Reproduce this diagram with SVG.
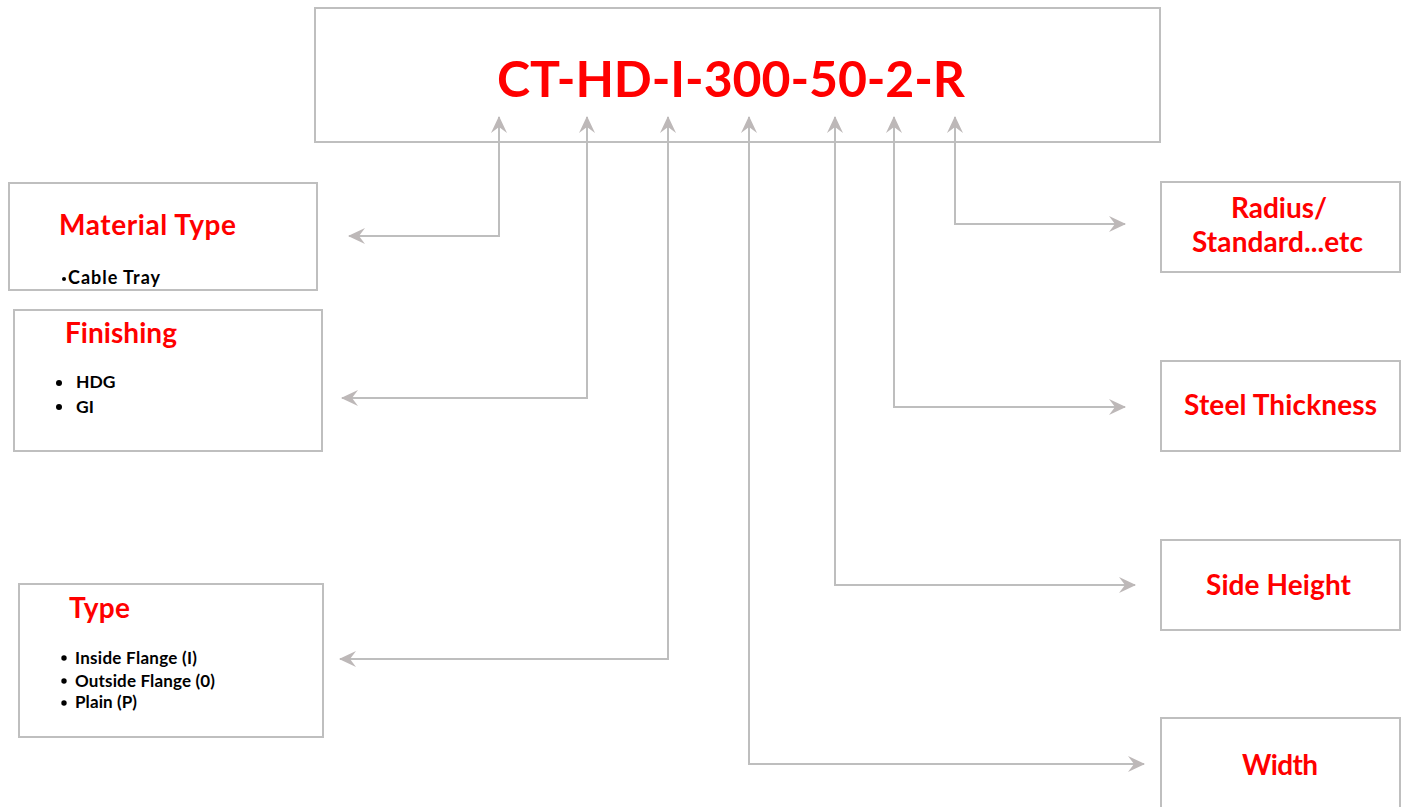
<svg xmlns="http://www.w3.org/2000/svg" width="1406" height="807" viewBox="0 0 1406 807">
<style>
.box{fill:#fff;stroke:#BFBFBF;stroke-width:2}
.ttl{font-family:Lato,"Open Sans",sans-serif;font-weight:bold;fill:#FF0000;font-size:28px}
.itm{font-family:Lato,"Open Sans",sans-serif;font-weight:bold;fill:#000;font-size:17px}
.cn{fill:none;stroke:#BEBEBE;stroke-width:2}
</style>
<defs>
<marker id="ah" viewBox="0 0 18 18" refX="16" refY="9" markerWidth="18" markerHeight="18" markerUnits="userSpaceOnUse" orient="auto-start-reverse">
<path d="M0,1 L17,9 L0,17 L6,9 Z" fill="#BDB8B8"/>
</marker>
</defs>
<rect width="1406" height="807" fill="#fff"/>
<g id="code">
<rect class="box" x="315" y="8" width="845" height="134"/>
<text class="ttl" x="497" y="97" style="font-size:50px" textLength="468">CT-HD-I-300-50-2-R</text>
</g>
<g id="material">
<rect class="box" x="9" y="183" width="308" height="107"/>
<text class="ttl" x="59" y="235" textLength="177">Material Type</text>
<circle cx="64" cy="279" r="2"/>
<text class="itm" x="68" y="284" style="font-size:18px" textLength="92">Cable Tray</text>
</g>
<g id="finishing">
<rect class="box" x="14" y="310" width="308" height="141"/>
<text class="ttl" x="65" y="343" textLength="112">Finishing</text>
<circle cx="59" cy="383" r="3"/><text class="itm" x="76" y="388" style="font-size:17.5px">HDG</text>
<circle cx="59" cy="407" r="3"/><text class="itm" x="76" y="413" style="font-size:17.5px">GI</text>
</g>
<g id="type">
<rect class="box" x="19" y="584" width="304" height="153"/>
<text class="ttl" x="69" y="618" textLength="61">Type</text>
<circle cx="64" cy="658" r="2.7"/><text class="itm" x="75" y="664" textLength="122">Inside Flange (I)</text>
<circle cx="64" cy="681" r="2.7"/><text class="itm" x="75" y="687" textLength="140">Outside Flange (0)</text>
<circle cx="64" cy="703" r="2.7"/><text class="itm" x="75" y="708" textLength="62">Plain (P)</text>
</g>
<g id="radius">
<rect class="box" x="1161" y="182" width="239" height="90"/>
<text class="ttl" x="1279" y="218" text-anchor="middle">Radius/</text>
<text class="ttl" x="1192" y="252" textLength="171">Standard...etc</text>
</g>
<g id="thickness">
<rect class="box" x="1161" y="361" width="239" height="90"/>
<text class="ttl" x="1184" y="415" textLength="193">Steel Thickness</text>
</g>
<g id="sideheight">
<rect class="box" x="1161" y="540" width="239" height="90"/>
<text class="ttl" x="1206" y="595" textLength="145">Side Height</text>
</g>
<g id="width">
<rect class="box" x="1161" y="718" width="239" height="100"/>
<text class="ttl" x="1242" y="775" textLength="76">Width</text>
</g>
<g id="connectors">
<path class="cn" d="M349,236 H499 V117" marker-start="url(#ah)" marker-end="url(#ah)"/>
<path class="cn" d="M342,398 H587 V117" marker-start="url(#ah)" marker-end="url(#ah)"/>
<path class="cn" d="M340,659 H668 V117" marker-start="url(#ah)" marker-end="url(#ah)"/>
<path class="cn" d="M749,117 V764 H1144" marker-start="url(#ah)" marker-end="url(#ah)"/>
<path class="cn" d="M835,117 V585 H1135" marker-start="url(#ah)" marker-end="url(#ah)"/>
<path class="cn" d="M894,117 V407 H1125" marker-start="url(#ah)" marker-end="url(#ah)"/>
<path class="cn" d="M955,117 V224 H1125" marker-start="url(#ah)" marker-end="url(#ah)"/>
</g>
</svg>
